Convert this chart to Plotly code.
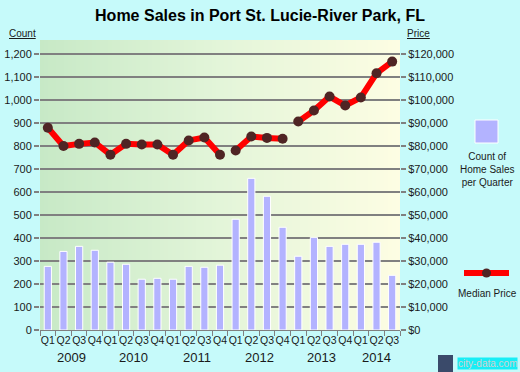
import plotly.graph_objects as go

# ---- data ----
quarters = ["Q1","Q2","Q3","Q4","Q1","Q2","Q3","Q4","Q1","Q2","Q3","Q4",
            "Q1","Q2","Q3","Q4","Q1","Q2","Q3","Q4","Q1","Q2","Q3"]
years = ["2009", "2010", "2011", "2012", "2013", "2014"]
year_first_idx = [0, 4, 8, 12, 16, 20]
year_last_idx = [3, 7, 11, 15, 19, 22]
counts = [277, 342, 364, 347, 295, 286, 221, 225, 221, 277, 273, 282,
          482, 660, 582, 447, 321, 403, 364, 373, 373, 382, 238]
prices = [88000, 80100, 81000, 81600, 76300, 81000, 80700, 80700, 76300, 82500, 83800, 76300,
          78100, 84200, 83600, 83200,
          90700, 95500, 101600, 97700, 101200, 111700, 116800]
price_segments = [(0, 11), (12, 15), (16, 22)]
count_ticks = [0, 100, 200, 300, 400, 500, 600, 700, 800, 900, 1000, 1100, 1200]
price_ticks = [0, 10000, 20000, 30000, 40000, 50000, 60000, 70000, 80000, 90000,
               100000, 110000, 120000]

YMAX = 1262
XR = [-0.5, len(quarters) - 0.5]
FONT = "Liberation Sans, Arial, sans-serif"
TXT = "#1a1a1a"

# plot area in pixels
L, R, T, B = 40, 400, 40, 330
W, H = 520, 372


def px(xp):
    return (xp - L) / float(R - L)


def py(yp):
    return (B - yp) / float(B - T)


fig = go.Figure()

xs = list(range(len(quarters)))
fig.add_trace(go.Bar(
    x=xs, y=counts, width=0.46,
    marker=dict(color="#B3B3FF", line=dict(color="white", width=1)),
    showlegend=False))

# price line (segments separated by gaps)
lx, ly = [], []
for a, b in price_segments:
    for i in range(a, b + 1):
        lx.append(i)
        ly.append(prices[i] / 100.0)
    lx.append(None)
    ly.append(None)
fig.add_trace(go.Scatter(
    x=lx, y=ly, mode="lines+markers", connectgaps=False,
    line=dict(color="#FF0000", width=6),
    marker=dict(color="#4F2424", size=10),
    showlegend=False))

# right axis dummy trace
fig.add_trace(go.Scatter(x=[None], y=[None], yaxis="y2", showlegend=False))

fig.update_layout(
    width=W, height=H,
    margin=dict(l=L, r=W - R, t=T, b=H - B),
    paper_bgcolor="#C6FAFA",
    plot_bgcolor="rgba(0,0,0,0)",
    font=dict(family=FONT, size=11, color=TXT),
    title=dict(text="<b>Home Sales in Port St. Lucie-River Park, FL</b>",
               x=0.5, xanchor="center", y=1 - 15.0 / H, yanchor="middle",
               font=dict(size=16, color="#000000")),
    xaxis=dict(range=XR, tickmode="array", tickvals=xs, ticktext=quarters,
               automargin=False, tickangle=0,
               showgrid=False, zeroline=False, ticks="", ticklen=0,
               tickfont=dict(size=10.5, color=TXT),
               showline=True, linecolor="#808080", linewidth=1,
               minor=dict(tickmode="array",
                          tickvals=[i - 0.5 for i in range(len(quarters) + 1)],
                          ticks="outside", ticklen=5, tickcolor="#808080",
                          tickwidth=1, showgrid=False)),
    yaxis=dict(range=[0, YMAX], tickmode="array", tickvals=count_ticks,
               ticktext=[f"{v:,}" for v in count_ticks], automargin=False,
               showgrid=True, gridcolor="#808080", gridwidth=1.5,
               zeroline=False, ticks="outside", ticklen=5, tickcolor="#808080",
               tickwidth=1.5, tickfont=dict(size=11, color=TXT)),
    yaxis2=dict(range=[0, YMAX * 100], overlaying="y", side="right",
                tickmode="array", tickvals=price_ticks, automargin=False,
                ticktext=[f"${v:,}" for v in price_ticks],
                showgrid=False, zeroline=False, ticks="outside", ticklen=5,
                tickcolor="#808080", tickwidth=1.5,
                tickfont=dict(size=11, color=TXT)),
)

ann = []
for yname, a, b in zip(years, year_first_idx, year_last_idx):
    ann.append(dict(x=(a + b) / 2.0, y=py(357), xref="x", yref="paper",
                    text=yname, showarrow=False, xanchor="center", yanchor="middle",
                    font=dict(size=13, color=TXT)))
ann.append(dict(x=px(22), y=py(34), xref="paper", yref="paper", text="<u>Count</u>",
                showarrow=False, xanchor="center", yanchor="middle",
                font=dict(size=10, color=TXT)))
ann.append(dict(x=px(418), y=py(34), xref="paper", yref="paper", text="<u>Price</u>",
                showarrow=False, xanchor="center", yanchor="middle",
                font=dict(size=10, color=TXT)))
ann.append(dict(x=px(487), y=py(169), xref="paper", yref="paper",
                text="Count of<br>Home Sales<br>per Quarter", showarrow=False,
                xanchor="center", yanchor="middle", align="center",
                font=dict(size=10, color=TXT)))
ann.append(dict(x=px(487), y=py(293), xref="paper", yref="paper",
                text="Median Price", showarrow=False, xanchor="center",
                yanchor="middle", font=dict(size=10, color=TXT)))
ann.append(dict(x=px(487), y=py(363), xref="paper", yref="paper",
                text="city-data.com", showarrow=False, xanchor="center",
                yanchor="middle", bgcolor="#18EEF6", borderpad=0,
                font=dict(size=10, color="#D0D0D0")))
fig.update_layout(annotations=ann)

# horizontal gradient background of plot area (strips drawn below gridlines)
stops = [(0.0, (199, 233, 198)), (0.5, (227, 245, 217)), (1.0, (253, 253, 227))]


def grad(t):
    for (t0, c0), (t1, c1) in zip(stops[:-1], stops[1:]):
        if t <= t1:
            f = (t - t0) / (t1 - t0)
            return "rgb(%d,%d,%d)" % tuple(round(c0[k] + (c1[k] - c0[k]) * f) for k in range(3))
    return "rgb(%d,%d,%d)" % stops[-1][1]


shapes = []
N = 90
for i in range(N):
    x0 = i / N
    x1 = min(1.0, (i + 1) / N + 0.004)
    shapes.append(dict(type="rect", xref="paper", yref="paper", x0=x0, x1=x1,
                       y0=0, y1=1, fillcolor=grad((i + 0.5) / N),
                       line=dict(width=0), layer="below"))

shapes += [
    dict(type="rect", xref="paper", yref="paper", x0=px(475), x1=px(498),
         y0=py(143), y1=py(120), fillcolor="#B3B3FF", line=dict(color="white", width=1)),
    dict(type="line", xref="paper", yref="paper", x0=px(464), x1=px(509),
         y0=py(273), y1=py(273), line=dict(color="#FF0000", width=6)),
    dict(type="circle", xref="paper", yref="paper", x0=px(482), x1=px(491),
         y0=py(277.5), y1=py(268.5), fillcolor="#4F2424", line=dict(width=0)),
    dict(type="rect", xref="paper", yref="paper", x0=px(438), x1=px(453),
         y0=py(372), y1=py(355), fillcolor="#3A4A6A", line=dict(width=0)),
]
fig.update_layout(shapes=shapes)

fig.write_html("out.html", config={"displayModeBar": False},
               post_script="document.body.style.margin='0';document.body.style.padding='0';")
